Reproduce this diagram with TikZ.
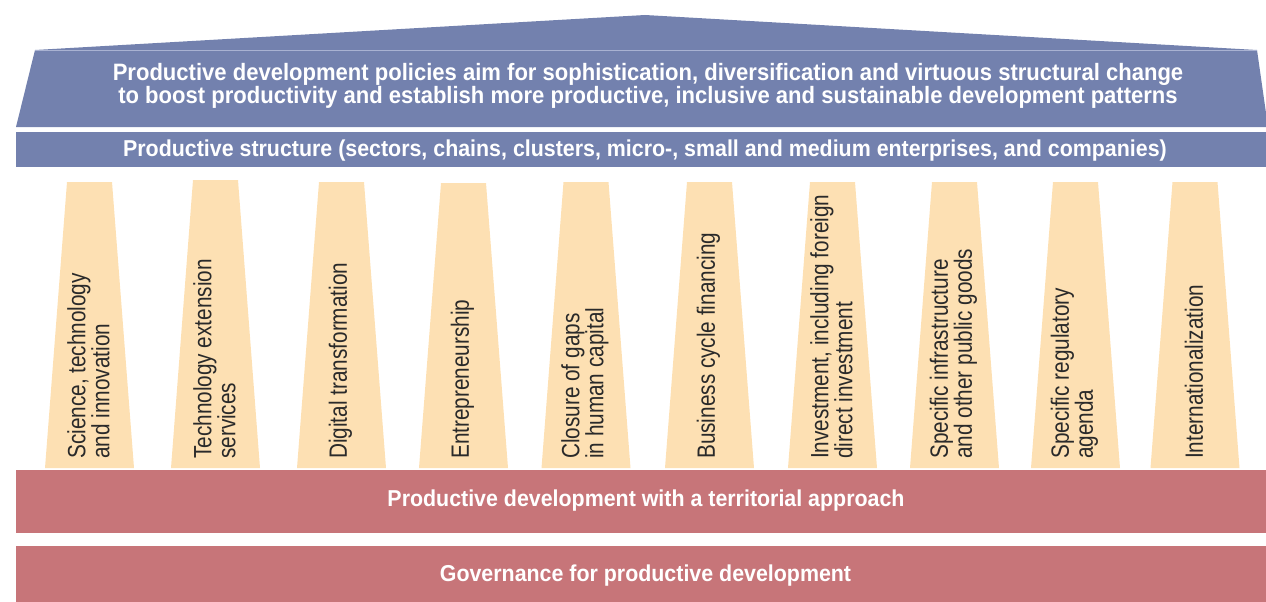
\documentclass[tikz,border=0pt]{standalone}
\usepackage{fontspec}
\setmainfont{Liberation Sans}
\newfontfamily\headfont[FakeStretch=0.93]{Liberation Sans}
\newfontfamily\pillarfont[FakeStretch=0.83]{Liberation Sans}
\definecolor{roofblue}{HTML}{7381AE}
\definecolor{roofline}{HTML}{A9B2D2}
\definecolor{pillarfill}{HTML}{FDE0B3}
\definecolor{baseRed}{HTML}{C77579}
\definecolor{pillartext}{HTML}{2A2A2A}
\tikzset{
  headtext/.style={text=white, inner sep=0pt, align=center,
    font=\headfont\bfseries\fontsize{23}{22}\selectfont},
  goaltext/.style={headtext, font=\headfont\bfseries\fontsize{23.7}{22}\selectfont},
  pillartxt/.style={text=pillartext, inner sep=0pt, align=left, rotate=90, anchor=west,
    font=\pillarfont\fontsize{25}{24}\selectfont},
}
\begin{document}
\begin{tikzpicture}[x=1pt,y=-1pt]
\useasboundingbox (0,0) rectangle (1266,602);
% roof
\fill[roofblue] (16,127) -- (35,50) -- (645,15) -- (1257,50) -- (1268,127) -- cycle;
\draw[roofline, line width=0.8pt] (35,50) -- (1257,50);
\node[goaltext] (goal) at (648,86) {Productive development policies aim for sophistication, diversification and virtuous structural change\\to boost productivity and establish more productive, inclusive and sustainable development patterns};
% productive structure bar
\fill[roofblue] (16,132) rectangle (1268,167);
\node[headtext] (structure) at (645,150.5) {Productive structure (sectors, chains, clusters, micro-, small and medium enterprises, and companies)};
% pillars: centre x, top y, label
\foreach \cx/\ty/\lbl/\nm in {
  89.5/182/{Science, technology\\and innovation}/p1,
  215.5/180/{Technology extension\\services}/p2,
  341.5/182/{Digital transformation}/p3,
  463.5/183/{Entrepreneurship}/p4,
  586/182/{Closure of gaps\\in human capital}/p5,
  709.5/182/{Business cycle financing}/p6,
  832.5/182/{Investment, including foreign\\direct investment}/p7,
  954.5/182/{Specific infrastructure\\and other public goods}/p8,
  1075.5/182/{Specific regulatory\\agenda}/p9,
  1195/182/{Internationalization}/p10}{
  \fill[pillarfill] (\cx-22.5,\ty) -- (\cx+22.5,\ty) -- (\cx+44.5,468) -- (\cx-44.5,468) -- cycle;
  \node[pillartxt] (\nm) at (\cx-1,459) {\lbl};
}
% base bars
\fill[baseRed] (16,470) rectangle (1268,533);
\node[headtext] (territorial) at (646,501) {Productive development with a territorial approach};
\fill[baseRed] (16,546) rectangle (1268,602);
\node[headtext] (governance) at (645.5,576) {Governance for productive development};
\end{tikzpicture}
\end{document}
